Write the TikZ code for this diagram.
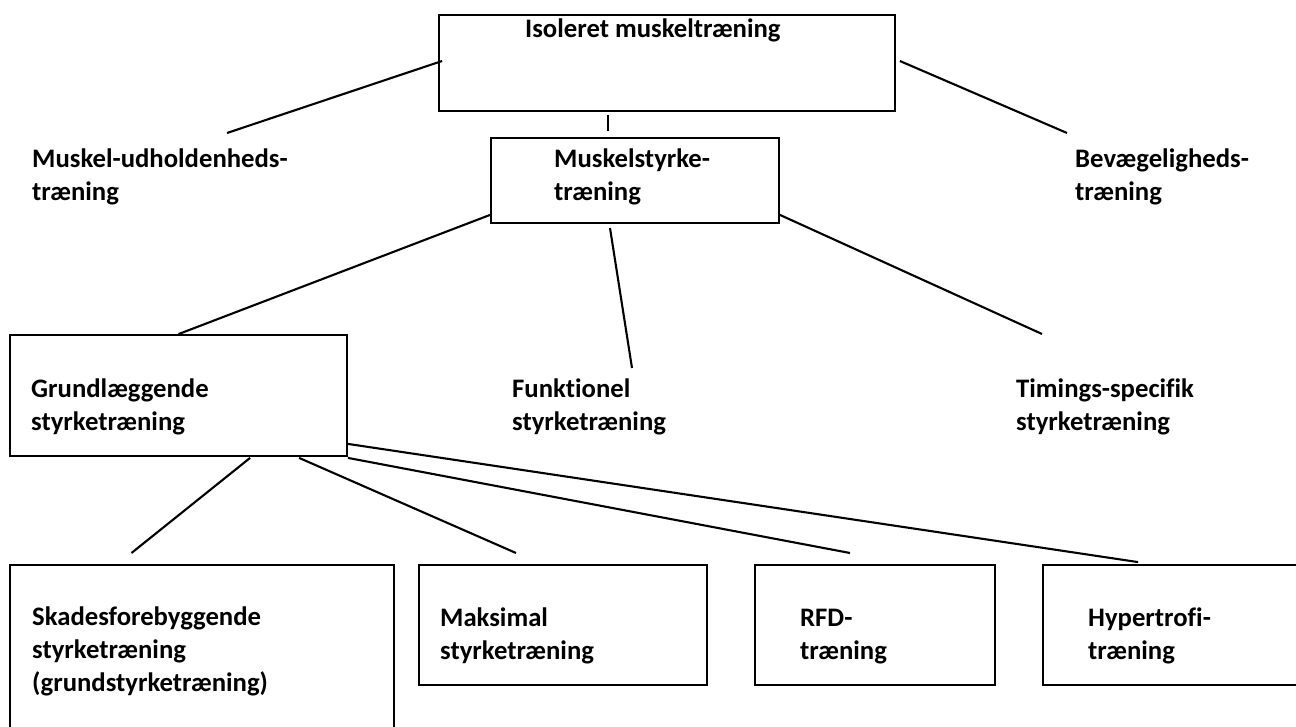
\documentclass[tikz,border=0pt]{standalone}
\usepackage{fontspec}
\setmainfont{Carlito}[Ligatures=NoCommon]
\usetikzlibrary{calc}
\tikzset{
  box/.style={draw=black, line width=1.8pt, rectangle, inner sep=0pt},
  txt/.style={font=\bfseries\fontsize{26.7}{33}\selectfont, align=left, inner sep=0pt, anchor=base west},
  conn/.style={line width=2.1pt, black}
}
\begin{document}
\begin{tikzpicture}[x=1pt,y=-1pt]
\useasboundingbox (0,0) rectangle (1296,727);
% boxes
\node[box, minimum width=456pt, minimum height=96pt] (top) at (667,63) {};
\node[box, minimum width=288pt, minimum height=85pt] (ms) at (635,180.5) {};
\node[box, minimum width=337pt, minimum height=121pt] (gr) at (178.5,395.5) {};
\node[box, minimum width=384pt, minimum height=180pt] (sk) at (202,655) {};
\node[box, minimum width=288pt, minimum height=120pt] (mk) at (563,625) {};
\node[box, minimum width=240pt, minimum height=120pt] (rfd) at (875,625) {};
\node[box, minimum width=270pt, minimum height=120pt] (hy) at (1178,625) {};
% texts (anchor = baseline of the last line)
\node[txt] (isot) at (525,38) {Isoleret muskeltræning};
\node[txt] (mu) at (32,201) {Muskel-udholdenheds-\\træning};
\node[txt] (mst) at (554,201) {Muskelstyrke-\\træning};
\node[txt] (bev) at (1075,201) {Bevægeligheds-\\træning};
\node[txt] (grt) at (31,430) {Grundlæggende\\styrketræning};
\node[txt] (fu) at (512,430) {Funktionel\\styrketræning};
\node[txt] (ti) at (1016,430) {Timings-specifik\\styrketræning};
\node[txt] (skt) at (32,691) {Skadesforebyggende\\styrketræning\\(grundstyrketræning)};
\node[txt] (mkt) at (440,659) {Maksimal\\styrketræning};
\node[txt] (rfdt) at (800,659) {RFD-\\træning};
\node[txt] (hyt) at (1088,659) {Hypertrofi-\\træning};
% free ends
\coordinate (muend) at (227,133);
\coordinate (bevend) at (1067,133);
\coordinate (t1) at (608,115);
\coordinate (t2) at (608,131);
\coordinate (f1) at (610,228);
\coordinate (f2) at (632,368);
\coordinate (tiend) at (1042,334);
\coordinate (skend) at (131.5,553);
\coordinate (mkend) at (516,553);
\coordinate (rfdend) at (850,553);
% connectors
\draw[conn] ($(top.west)+(4,-2)$) -- (muend);
\draw[conn] ($(top.east)+(4,-2)$) -- (bevend);
\draw[conn] (t1) -- (t2);
\draw[conn] ($(ms.south west)+(0,-9)$) -- (gr.north);
\draw[conn] (f1) -- (f2);
\draw[conn] ($(ms.south east)+(0,-9)$) -- (tiend);
\draw[conn] ($(gr.south west)+(241,1)$) -- (skend);
\draw[conn] ($(gr.south west)+(290,1)$) -- (mkend);
\draw[conn] ($(gr.south east)+(0,1)$) -- (rfdend);
\draw[conn] ($(gr.south east)+(0,-13)$) -- ($(hy.north west)+(96,-2)$);
\end{tikzpicture}
\end{document}
